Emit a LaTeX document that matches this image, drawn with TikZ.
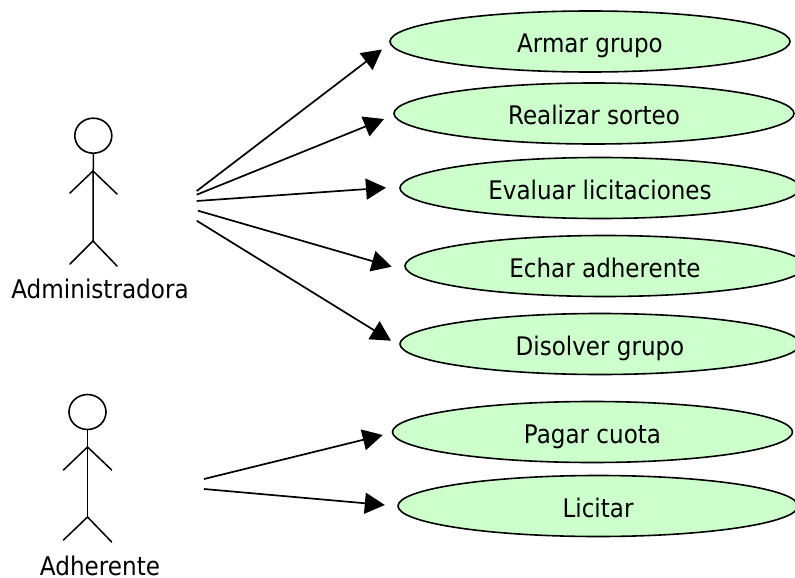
\documentclass[tikz,border=0pt]{standalone}
\usepackage{fontspec}
\setmainfont[FakeStretch=0.9]{DejaVu Sans}
\usetikzlibrary{shapes.geometric,arrows.meta}
\tikzset{
  usecase/.style={ellipse,draw=black,fill=usegreen,line width=1.6pt,minimum width=400pt,minimum height=61pt,inner sep=0pt,text height=22.6pt,text depth=0pt,font=\fontsize{25.6}{28}\selectfont},
  head/.style={ellipse,draw=black,fill=white,line width=1.6pt,inner sep=0pt,minimum width=37pt,minimum height=35pt},
  limb/.style={line width=1.5pt,line cap=round},
  assoc/.style={line width=1.7pt,-{Triangle[length=20pt,width=21pt]}},
  actorlabel/.style={inner sep=0pt,anchor=base,font=\fontsize{25.7}{28}\selectfont}
}
\definecolor{usegreen}{HTML}{CCFFCC}
\begin{document}
\begin{tikzpicture}[x=1pt,y=-1pt]
\useasboundingbox (0,0) rectangle (795,578);
% use cases
\node[usecase] (armar) at (590,41.5) {Armar grupo};
\node[usecase] (sorteo) at (594,113.5) {Realizar sorteo};
\node[usecase] (evaluar) at (600,188) {Evaluar licitaciones};
\node[usecase] (echar) at (605,266) {Echar adherente};
\node[usecase] (disolver) at (600,344) {Disolver grupo};
\node[usecase] (pagar) at (592.5,432) {Pagar cuota};
\node[usecase] (licitar) at (598,506) {Licitar};
% actor Administradora
\node[head] (headA) at (93.3,135.7) {};
\coordinate (shoulderA) at (93,171);
\coordinate (crotchA) at (93,241);
\coordinate (handAl) at (70,193);
\coordinate (handAr) at (117,194);
\coordinate (footAl) at (70,264);
\coordinate (footAr) at (117,266);
\draw[limb] (headA.south) -- (crotchA);
\draw[limb] (handAl) -- (shoulderA) -- (handAr);
\draw[limb] (footAl) -- (crotchA) -- (footAr);
\node[actorlabel] (labelA) at (100,298) {Administradora};
% actor Adherente
\node[head] (headB) at (87.5,412) {};
\coordinate (shoulderB) at (87.5,447);
\coordinate (crotchB) at (87.5,517);
\coordinate (handBl) at (63.5,470);
\coordinate (handBr) at (111.7,470);
\coordinate (footBl) at (63.5,540);
\coordinate (footBr) at (111.7,542);
\draw[limb] (headB.south) -- (crotchB);
\draw[limb] (handBl) -- (shoulderB) -- (handBr);
\draw[limb] (footBl) -- (crotchB) -- (footBr);
\node[actorlabel] (labelB) at (100,575) {Adherente};
% connector ends
\coordinate (a1) at (196.7,191);
\coordinate (a2) at (196.7,194.7);
\coordinate (a3) at (196.7,201);
\coordinate (a4) at (198,210.7);
\coordinate (a5) at (196.7,220.7);
\coordinate (b1) at (204,479);
\coordinate (b2) at (204,489);
\coordinate (t1) at (382,49.5);
\coordinate (t2) at (384,119);
\coordinate (t3) at (386,187.7);
\coordinate (t4) at (391.7,266.7);
\coordinate (t5) at (391,340.7);
\coordinate (t6) at (382.7,435);
\coordinate (t7) at (384.8,505);
\draw[assoc] (a1) -- (t1);
\draw[assoc] (a2) -- (t2);
\draw[assoc] (a3) -- (t3);
\draw[assoc] (a4) -- (t4);
\draw[assoc] (a5) -- (t5);
\draw[assoc] (b1) -- (t6);
\draw[assoc] (b2) -- (t7);
\end{tikzpicture}
\end{document}
